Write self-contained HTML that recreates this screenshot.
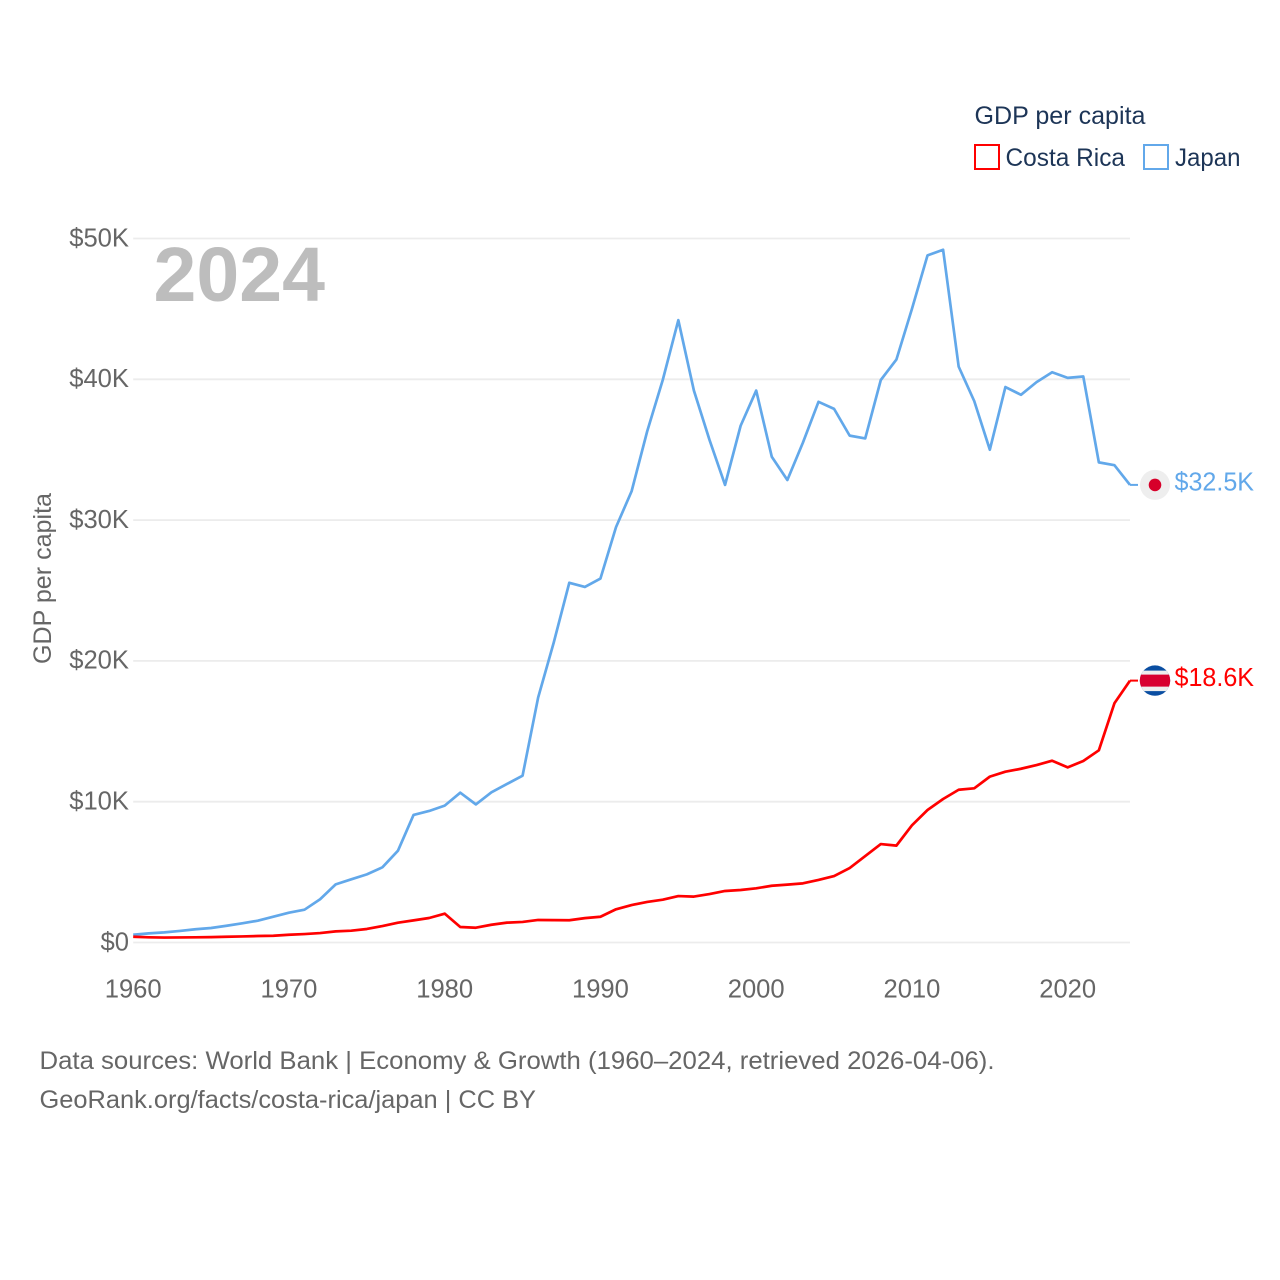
<!DOCTYPE html>
<html lang="en">
<head>
<meta charset="utf-8">
<title>GDP per capita: Costa Rica and Japan</title>
<style>
  html, body { margin: 0; padding: 0; background: #fff; }
  svg { display: block; font-family: "Liberation Sans", Arial, sans-serif; }
</style>
</head>
<body>
<svg id="chart" xmlns="http://www.w3.org/2000/svg" width="1280" height="1280" viewBox="0 0 1280 1280">
  <rect x="0" y="0" width="1280" height="1280" fill="#ffffff"/>
  <g id="grid"></g>
  <g id="yticks"></g>
  <g id="xticks"></g>
  <text x="153.5" y="301" font-size="77" font-weight="700" fill="#bdbdbd" textLength="171.5" lengthAdjust="spacingAndGlyphs">2024</text>
  <text transform="translate(51,578.5) rotate(-90)" text-anchor="middle" font-size="25" fill="#666666" textLength="171" lengthAdjust="spacingAndGlyphs">GDP per capita</text>
  <g id="series"></g>
  <g id="ends"></g>

  <g>
    <text x="974.5" y="124" font-size="25" fill="#1d3557" textLength="171" lengthAdjust="spacingAndGlyphs">GDP per capita</text>
    <g>
      <rect x="975" y="145" width="24" height="24" fill="#ffffff" stroke="#ff0000" stroke-width="2"/>
      <text x="1005.5" y="166" font-size="25" fill="#1d3557" textLength="119.5" lengthAdjust="spacingAndGlyphs">Costa Rica</text>
    </g>
    <g>
      <rect x="1144" y="145" width="24" height="24" fill="#ffffff" stroke="#62a8ea" stroke-width="2"/>
      <text x="1175" y="166" font-size="25" fill="#1d3557" textLength="65.5" lengthAdjust="spacingAndGlyphs">Japan</text>
    </g>
  </g>

  <g>
    <text x="39.5" y="1069" font-size="25" fill="#666666" textLength="955" lengthAdjust="spacingAndGlyphs">Data sources: World Bank | Economy &amp; Growth (1960–2024, retrieved 2026-04-06).</text>
    <text x="39.5" y="1108" font-size="25" fill="#666666" textLength="496.5" lengthAdjust="spacingAndGlyphs">GeoRank.org/facts/costa-rica/japan | CC BY</text>
  </g>
</svg>

<script>
const years = [1960,1961,1962,1963,1964,1965,1966,1967,1968,1969,
  1970,1971,1972,1973,1974,1975,1976,1977,1978,1979,
  1980,1981,1982,1983,1984,1985,1986,1987,1988,1989,
  1990,1991,1992,1993,1994,1995,1996,1997,1998,1999,
  2000,2001,2002,2003,2004,2005,2006,2007,2008,2009,
  2010,2011,2012,2013,2014,2015,2016,2017,2018,2019,
  2020,2021,2022,2023,2024];

const japanValues = [0.55,0.65,0.72,0.82,0.94,1.03,1.19,1.36,1.55,1.83,
  2.12,2.33,3.07,4.13,4.49,4.84,5.34,6.52,9.06,9.34,
  9.72,10.64,9.81,10.67,11.26,11.85,17.4,21.3,25.55,25.25,
  25.85,29.5,32.05,36.3,39.95,44.2,39.2,35.7,32.5,36.7,
  39.2,34.5,32.85,35.5,38.4,37.9,36.0,35.8,39.95,41.4,
  45.0,48.8,49.2,40.9,38.45,35.0,39.45,38.9,39.8,40.5,
  40.1,40.2,34.1,33.9,32.5];

const costaRicaValues = [0.41,0.37,0.35,0.36,0.37,0.38,0.41,0.43,0.46,0.48,
  0.55,0.6,0.67,0.79,0.84,0.96,1.17,1.41,1.57,1.74,
  2.05,1.1,1.05,1.26,1.41,1.46,1.6,1.59,1.58,1.73,
  1.83,2.36,2.66,2.88,3.04,3.3,3.26,3.44,3.66,3.73,
  3.85,4.03,4.11,4.2,4.44,4.72,5.29,6.14,6.99,6.88,
  8.32,9.41,10.19,10.85,10.95,11.78,12.13,12.34,12.6,12.91,
  12.44,12.89,13.65,16.99,18.6];

const yTickValues = [0,10,20,30,40,50];
const yTickLabels = ["$0","$10K","$20K","$30K","$40K","$50K"];
const xTickValues = [1960,1970,1980,1990,2000,2010,2020];
const xTickLabels = ["1960","1970","1980","1990","2000","2010","2020"];
const endLabels = ["$18.6K","$32.5K"];

const SVG_NS = "http://www.w3.org/2000/svg";
const plotLeft = 133.2, plotRight = 1130, plotBottom = 942.5, plotTop = 238.5;
const yearMin = 1960, yearMax = 2024, valueMax = 50;

function xScale(year) {
  return plotLeft + (year - yearMin) / (yearMax - yearMin) * (plotRight - plotLeft);
}
function yScale(value) {
  return plotBottom - value / valueMax * (plotBottom - plotTop);
}
function make(tag, attrs, parent) {
  const el = document.createElementNS(SVG_NS, tag);
  for (const key in attrs) el.setAttribute(key, attrs[key]);
  parent.appendChild(el);
  return el;
}

const gridGroup = document.getElementById("grid");
const yTickGroup = document.getElementById("yticks");
const xTickGroup = document.getElementById("xticks");
const seriesGroup = document.getElementById("series");
const endGroup = document.getElementById("ends");

yTickValues.forEach(function (value, i) {
  const line = make("line", { x1: plotLeft, x2: plotRight, y1: yScale(value), y2: yScale(value), stroke: "#ececec", "stroke-width": 1.8 }, gridGroup);
  
  
  const label = make("text", { x: 129, y: yScale(value) + 7.8, "text-anchor": "end", "font-size": 25.6, fill: "#666666" }, yTickGroup);
  label.textContent = yTickLabels[i];
  
  
});

xTickValues.forEach(function (year, i) {
  const label = make("text", { x: xScale(year), y: 997.5, "text-anchor": "middle", "font-size": 25.6, fill: "#666666" }, xTickGroup);
  label.textContent = xTickLabels[i];
  
  
});

function linePath(values) {
  return values.map(function (v, i) {
    return (i ? "L" : "M") + xScale(years[i]).toFixed(2) + " " + yScale(v).toFixed(2);
  }).join(" ");
}

const japanLine = make("path", { d: linePath(japanValues), fill: "none", stroke: "#62a8ea", "stroke-width": 2.7, "stroke-linejoin": "round" }, seriesGroup);



const costaRicaLine = make("path", { d: linePath(costaRicaValues), fill: "none", stroke: "#ff0000", "stroke-width": 2.7, "stroke-linejoin": "round" }, seriesGroup);



const japanEndY = yScale(japanValues[japanValues.length - 1]);
const costaEndY = yScale(costaRicaValues[costaRicaValues.length - 1]);

const japanConnector = make("line", { x1: plotRight, x2: 1138, y1: japanEndY, y2: japanEndY, stroke: "#62a8ea", "stroke-width": 2 }, endGroup);



const costaConnector = make("line", { x1: plotRight, x2: 1138, y1: costaEndY, y2: costaEndY, stroke: "#ff0000", "stroke-width": 2 }, endGroup);



const japanFlag = make("g", {}, endGroup);


const japanDisc = make("circle", { cx: 1155, cy: japanEndY, r: 15, fill: "#eeeeee" }, japanFlag);


const japanDot = make("circle", { cx: 1155, cy: japanEndY, r: 6.3, fill: "#d7002a" }, japanFlag);



const defs = make("defs", {}, endGroup);
const clip = make("clipPath", { id: "costa-clip" }, defs);
make("circle", { cx: 1155, cy: costaEndY, r: 15.2 }, clip);

const costaFlag = make("g", { "clip-path": "url(#costa-clip)" }, endGroup);


const costaBlue = make("rect", { x: 1139, y: costaEndY - 16, width: 32, height: 32, fill: "#0a4ea2" }, costaFlag);


const costaWhite = make("rect", { x: 1139, y: costaEndY - 10, width: 32, height: 20.5, fill: "#eeeeee" }, costaFlag);


const costaRed = make("rect", { x: 1139, y: costaEndY - 6, width: 32, height: 12, fill: "#d80030" }, costaFlag);



const costaLabel = make("text", { x: 1174.5, y: costaEndY + 5.5, "font-size": 25.6, fill: "#ff0000", textLength: 79.5, lengthAdjust: "spacingAndGlyphs" }, endGroup);
costaLabel.textContent = endLabels[0];



const japanLabel = make("text", { x: 1174.5, y: japanEndY + 5.5, "font-size": 25.6, fill: "#62a8ea", textLength: 79.5, lengthAdjust: "spacingAndGlyphs" }, endGroup);
japanLabel.textContent = endLabels[1];


</script>
</body>
</html>
